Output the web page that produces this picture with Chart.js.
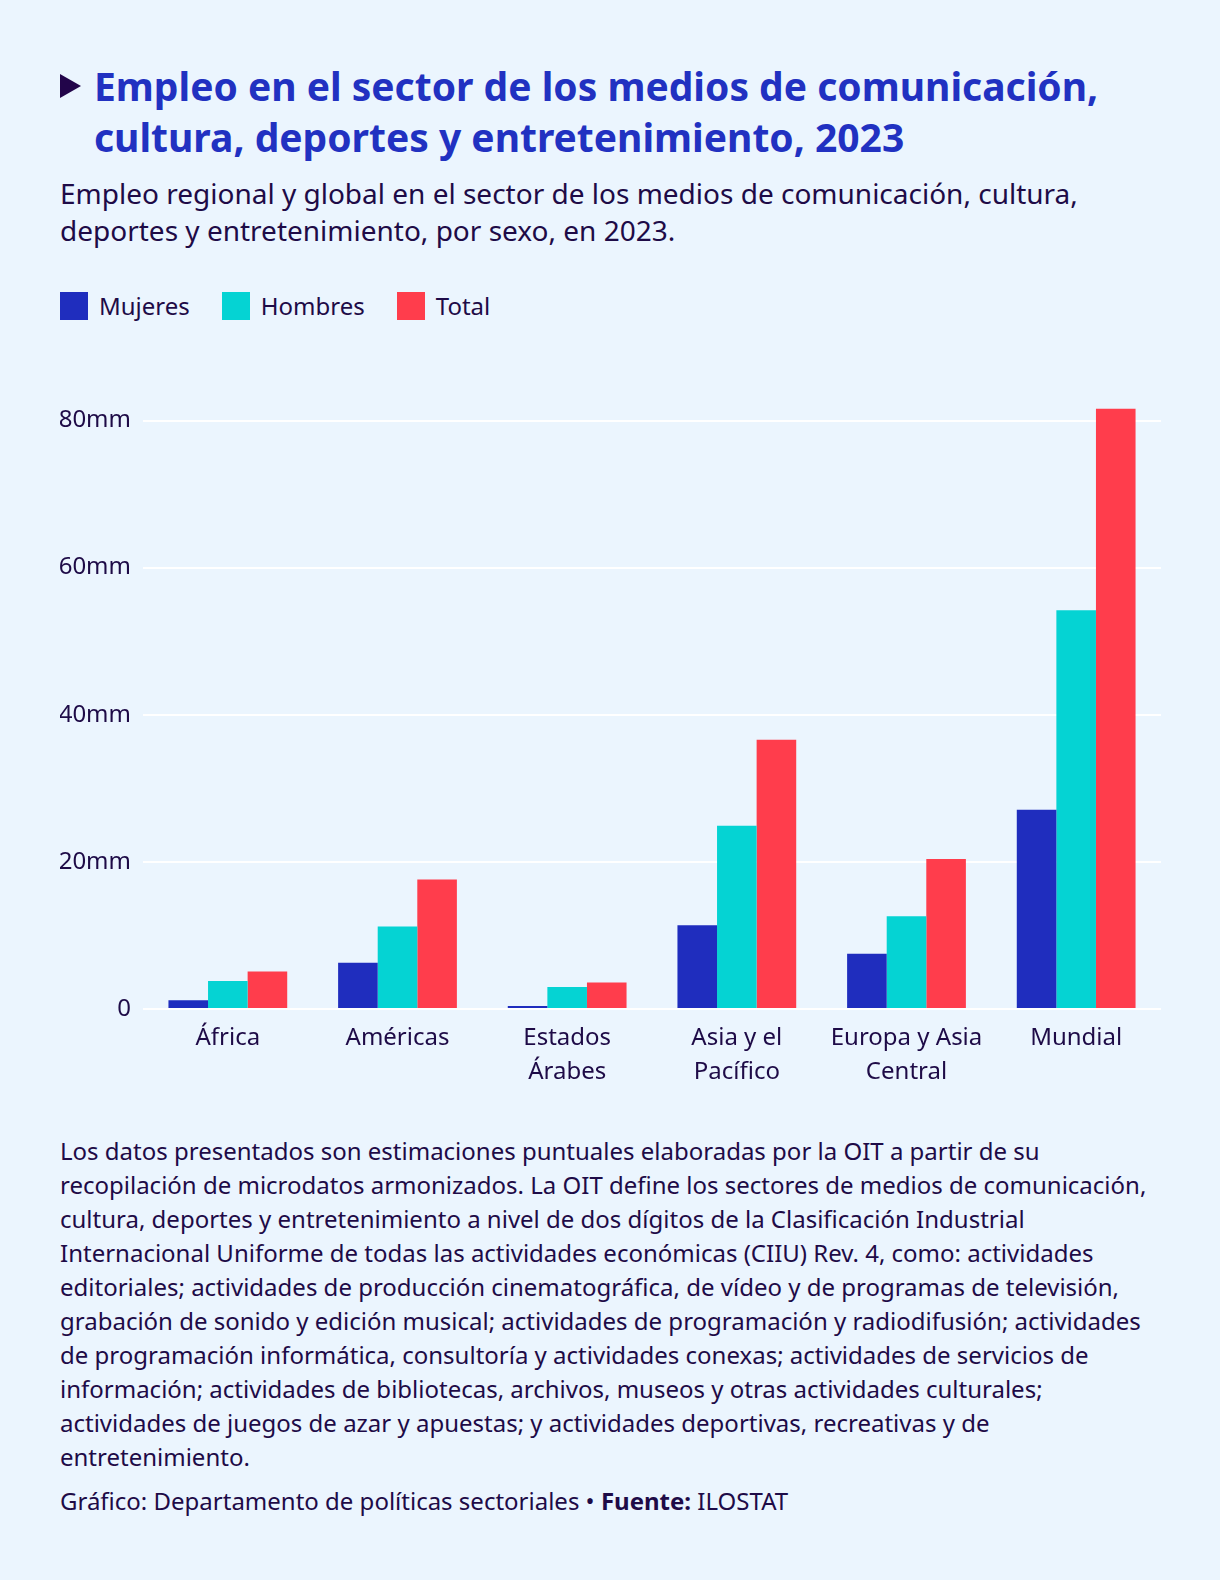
<!DOCTYPE html>
<html lang="es">
<head>
<meta charset="utf-8">
<script src="https://cdn.jsdelivr.net/npm/chart.js@4.4.1/dist/chart.umd.min.js"></script>
<style>
  html, body { margin: 0; padding: 0; background: #EBF5FE; }
  body { width: 1220px; height: 1580px; position: relative; font-family: "Noto Sans", sans-serif; color: #1E0B47; }
  .title { position: absolute; left: 94px; top: 61px; margin: 0; font-size: 39px; line-height: 50.5px; font-weight: 700; color: #2131C1; white-space: nowrap; }
  .marker { position: absolute; left: 60px; top: 74px; width: 0; height: 0;
    border-top: 12px solid transparent; border-bottom: 12px solid transparent; border-left: 21px solid #22054A; }
  .subtitle { position: absolute; left: 60px; top: 175px; margin: 0; font-size: 28px; line-height: 37px; white-space: nowrap; }
  .legend { position: absolute; left: 60px; top: 292px; display: flex; font-size: 24px; line-height: 28px; }
  .legend span { display: flex; align-items: center; margin-right: 32px; }
  .legend i { display: inline-block; width: 28px; height: 28px; margin-right: 11px; }
  .chart-box { position: absolute; left: 60px; top: 350px; width: 1109px; height: 739px; }
  .notes { position: absolute; left: 60px; top: 1134px; margin: 0; font-size: 24px; line-height: 34px; white-space: nowrap; }
  .credit { position: absolute; left: 60px; top: 1484px; margin: 0; font-size: 24px; line-height: 34px; white-space: nowrap; }
</style>
</head>
<body>
<div class="marker"></div>
<h1 class="title">Empleo en el sector de los medios de comunicación,<br>cultura, deportes y entretenimiento, 2023</h1>
<p class="subtitle">Empleo regional y global en el sector de los medios de comunicación, cultura,<br>deportes y entretenimiento, por sexo, en 2023.</p>
<div class="legend" id="legend"></div>
<div class="chart-box"><canvas id="chart"></canvas></div>
<p class="notes">Los datos presentados son estimaciones puntuales elaboradas por la OIT a partir de su<br>recopilación de microdatos armonizados. La OIT define los sectores de medios de comunicación,<br>cultura, deportes y entretenimiento a nivel de dos dígitos de la Clasificación Industrial<br>Internacional Uniforme de todas las actividades económicas (CIIU) Rev. 4, como: actividades<br>editoriales; actividades de producción cinematográfica, de vídeo y de programas de televisión,<br>grabación de sonido y edición musical; actividades de programación y radiodifusión; actividades<br>de programación informática, consultoría y actividades conexas; actividades de servicios de<br>información; actividades de bibliotecas, archivos, museos y otras actividades culturales;<br>actividades de juegos de azar y apuestas; y actividades deportivas, recreativas y de<br>entretenimiento.</p>
<p class="credit">Gráfico: Departamento de políticas sectoriales • <b>Fuente:</b> ILOSTAT</p>
<script>
// values in millions of workers
var regions = [['África'], ['Américas'], ['Estados', 'Árabes'], ['Asia y el', 'Pacífico'], ['Europa y Asia', 'Central'], ['Mundial']];
var mujeres = [1.2, 6.3, 0.4, 11.4, 7.5, 27.1];
var hombres = [3.8, 11.2, 3.0, 24.9, 12.6, 54.2];
var total = [5.1, 17.6, 3.6, 36.6, 20.4, 81.6];
var yTicks = [0, 20, 40, 60, 80];

var ink = '#1E0B47';
Chart.defaults.font.family = '"Noto Sans", sans-serif';
Chart.defaults.color = ink;

function series(label, data, color) {
  return {
    label: label,
    data: data,
    backgroundColor: color,
    borderWidth: 0,
    categoryPercentage: 0.7,
    barPercentage: 1.0
  };
}

var chart = new Chart(document.getElementById('chart'), {
  type: 'bar',
  data: {
    labels: regions,
    datasets: [
      series('Mujeres', mujeres, '#1F2DBE'),
      series('Hombres', hombres, '#05D3D3'),
      series('Total', total, '#FF3D4C')
    ]
  },
  options: {
    responsive: true,
    maintainAspectRatio: false,
    animation: false,
    layout: { autoPadding: false, padding: { left: 0, right: 8, top: 21, bottom: 0 } },
    plugins: {
      tooltip: { enabled: false },
      legend: { display: false }
    },
    scales: {
      x: {
        grid: { display: false, drawTicks: false },
        border: { display: false },
        afterFit: function(axis) { axis.height = 80; },
        ticks: { font: { size: 24, lineHeight: 1.42 }, color: ink, padding: 12, maxRotation: 0, autoSkip: false }
      },
      y: {
        min: 0,
        max: 86,
        afterBuildTicks: function(axis) {
          axis.ticks = yTicks.map(function(v) { return { value: v }; });
        },
        afterFit: function(axis) { axis.width = 83; },
        grid: { color: '#FFFFFF', lineWidth: 2, drawTicks: false },
        border: { display: false },
        ticks: {
          font: { size: 24 },
          color: ink,
          padding: 12,
          callback: function(v) { return v === 0 ? '0' : v + 'mm'; }
        }
      }
    }
  }
});

// legend built from the chart's own datasets
var legendEl = document.getElementById('legend');
chart.data.datasets.forEach(function(ds) {
  var item = document.createElement('span');
  var box = document.createElement('i');
  box.style.background = ds.backgroundColor;
  item.appendChild(box);
  item.appendChild(document.createTextNode(ds.label));
  legendEl.appendChild(item);
});
</script>
</body>
</html>
